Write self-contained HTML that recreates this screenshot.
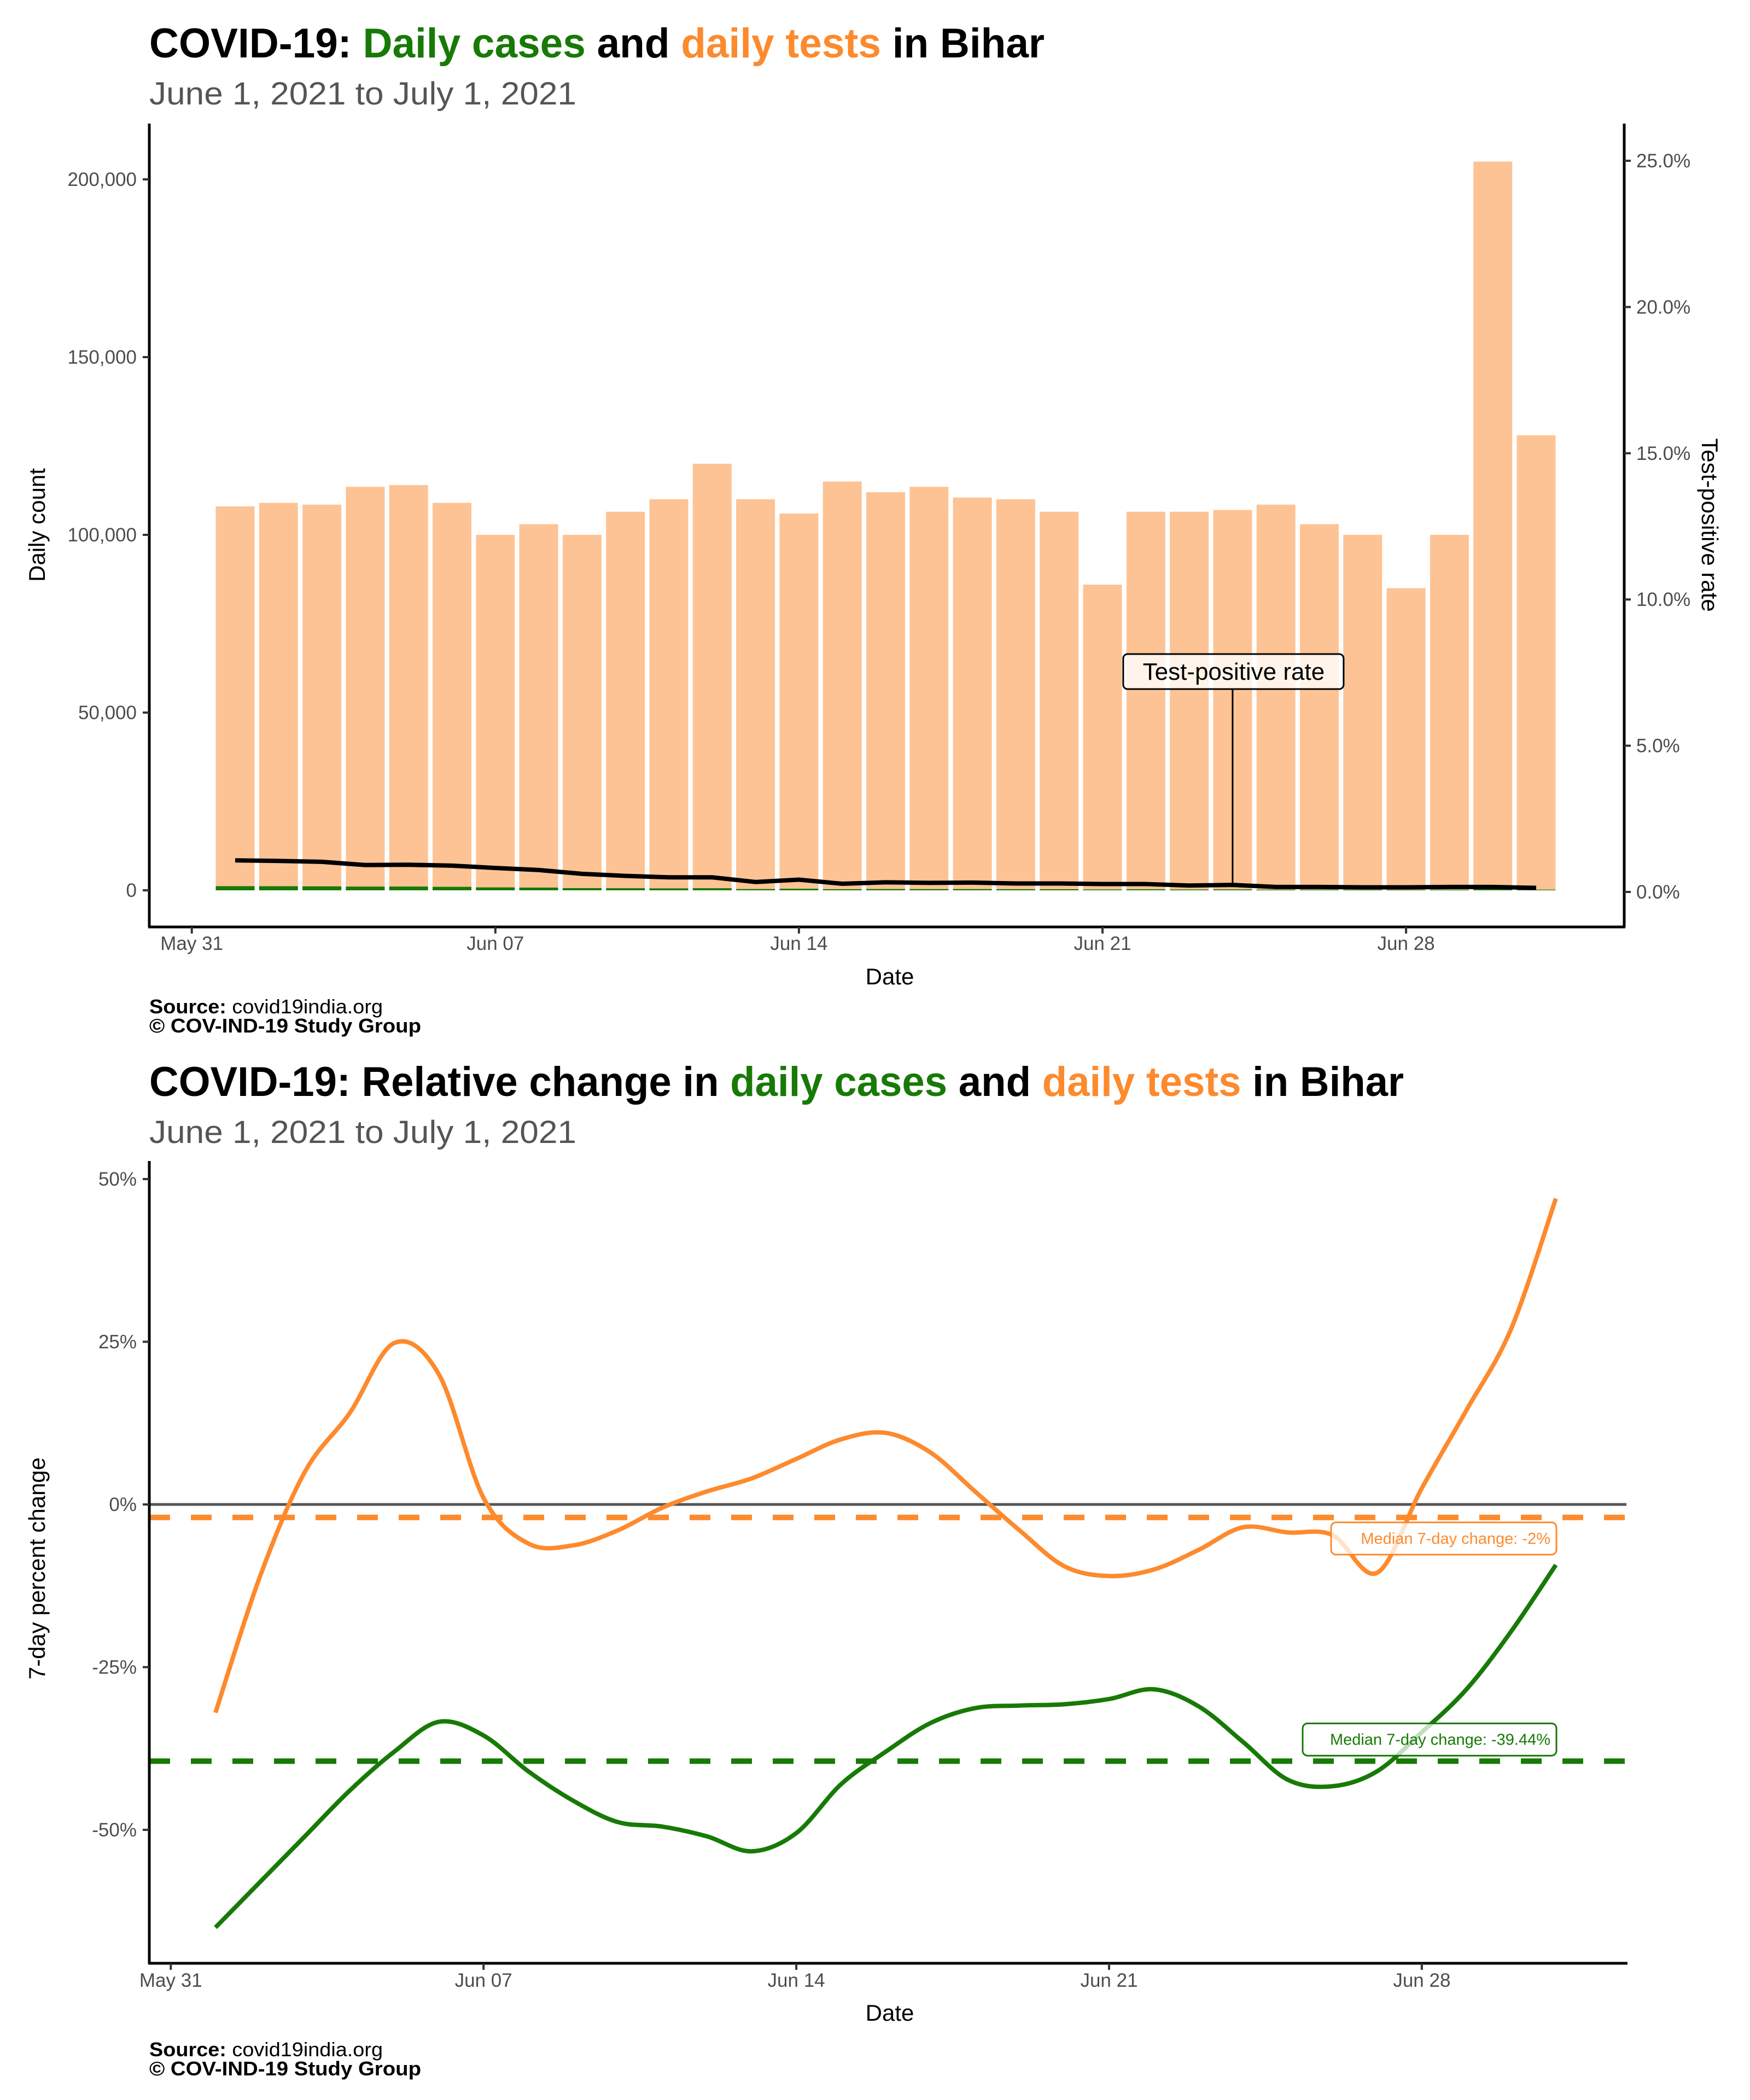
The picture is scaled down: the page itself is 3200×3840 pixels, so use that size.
<!DOCTYPE html>
<html><head><meta charset="utf-8">
<style>
html,body{margin:0;padding:0;background:#fff;}
svg{display:block;font-family:"Liberation Sans",sans-serif;}
</style></head>
<body>
<svg id="chart" width="3200" height="3840" viewBox="0 0 3200 3840" xmlns="http://www.w3.org/2000/svg">
  <g>
    <text x="273" y="105" font-size="76" font-weight="bold" textLength="1637" lengthAdjust="spacingAndGlyphs">COVID-19: <tspan fill="#177a06">Daily cases</tspan> and <tspan fill="#fd8a2d">daily tests</tspan> in Bihar</text>
    <text x="273" y="191" font-size="58" fill="#555" textLength="781" lengthAdjust="spacingAndGlyphs">June  1, 2021 to July  1, 2021</text>
  </g>
  <g id="topChart"></g>
  <g>
    <text x="273" y="1853" font-size="36" textLength="427" lengthAdjust="spacingAndGlyphs"><tspan font-weight="bold">Source:</tspan> covid19india.org</text>
    <text x="273" y="1888" font-size="36" font-weight="bold" textLength="497" lengthAdjust="spacingAndGlyphs">© COV-IND-19 Study Group</text>
  </g>
  <g>
    <text x="273" y="2004" font-size="76" font-weight="bold" textLength="2294" lengthAdjust="spacingAndGlyphs">COVID-19: Relative change in <tspan fill="#177a06">daily cases</tspan> and <tspan fill="#fd8a2d">daily tests</tspan> in Bihar</text>
    <text x="273" y="2090" font-size="58" fill="#555" textLength="781" lengthAdjust="spacingAndGlyphs">June  1, 2021 to July  1, 2021</text>
  </g>
  <g id="botChart"></g>
  <g>
    <text x="273" y="3760" font-size="36" textLength="427" lengthAdjust="spacingAndGlyphs"><tspan font-weight="bold">Source:</tspan> covid19india.org</text>
    <text x="273" y="3795" font-size="36" font-weight="bold" textLength="497" lengthAdjust="spacingAndGlyphs">© COV-IND-19 Study Group</text>
  </g>
</svg>
<script>
// ---- data ----
const dayLabels = ["Jun 01","Jun 02","Jun 03","Jun 04","Jun 05","Jun 06","Jun 07","Jun 08","Jun 09","Jun 10","Jun 11","Jun 12","Jun 13","Jun 14","Jun 15","Jun 16","Jun 17","Jun 18","Jun 19","Jun 20","Jun 21","Jun 22","Jun 23","Jun 24","Jun 25","Jun 26","Jun 27","Jun 28","Jun 29","Jun 30","Jul 01"];
const dailyTests = [108000,109000,108500,113500,114000,109000,100000,103000,100000,106500,110000,120000,110000,106000,115000,112000,113500,110500,110000,106500,86000,106500,106500,107000,108500,103000,100000,85000,100000,205000,128000];
const dailyCases = [1170,1150,1120,1050,1060,980,820,770,620,590,550,600,370,450,320,370,350,350,320,310,230,290,230,260,180,180,160,140,170,350,180];
const tprPercent = [1.08,1.06,1.03,0.92,0.93,0.90,0.82,0.75,0.62,0.55,0.50,0.50,0.34,0.42,0.28,0.33,0.31,0.32,0.29,0.29,0.27,0.27,0.22,0.24,0.17,0.17,0.16,0.16,0.17,0.17,0.14];
const leftTicks = [0,50000,100000,150000,200000];
const leftTickLabels = ["0","50,000","100,000","150,000","200,000"];
const rightTicks = [0,5,10,15,20,25];
const rightTickLabels = ["0.0%","5.0%","10.0%","15.0%","20.0%","25.0%"];
const dateTicks = [-1,6,13,20,27];
const dateTickLabels = ["May 31","Jun 07","Jun 14","Jun 21","Jun 28"];
const testsChange = [-32,-11,5,14,24.8,20,1,-6,-6.3,-4,-0.5,2,4,7,10,11,8,2,-4,-9.5,-11,-10,-7,-3.5,-4.3,-4.7,-10.5,2.5,14.5,27,47];
const casesChange = [-65,-58,-51,-44,-38,-33.4,-35.5,-41,-45.5,-48.8,-49.5,-51,-53.3,-50.5,-43,-38,-33.6,-31.3,-30.9,-30.7,-29.9,-28.4,-31,-36.5,-42.3,-43.3,-41,-35,-28.4,-19.5,-9.3];
const medianTests = -2;
const medianCases = -39.44;
const pctTicks = [-50,-25,0,25,50];
const pctTickLabels = ["-50%","-25%","0%","25%","50%"];

const NS="http://www.w3.org/2000/svg";
function mk(parent,tag,attrs,text){const e=document.createElementNS(NS,tag);for(const k in attrs)e.setAttribute(k,attrs[k]);if(text!==undefined)e.textContent=text;parent.appendChild(e);return e;}

// ---- top chart ----
const topG=document.getElementById('topChart');
const tx=d=>430+d*79.3;
const ty=v=>1628-v*0.0065;
const tr=p=>1631-p*53.48;
const bw=71;
dailyTests.forEach((v,i)=>{
  const r=mk(topG,'rect',{x:tx(i)-bw/2,y:ty(v),width:bw,height:ty(0)-ty(v),fill:'#fec394'});
  
  
});
dailyCases.forEach((v,i)=>{
  const r=mk(topG,'rect',{x:tx(i)-bw/2,y:ty(v),width:bw,height:ty(0)-ty(v),fill:'#177a06'});
  
  
});
const tprLine=mk(topG,'polyline',{points:tprPercent.map((p,i)=>tx(i)+','+tr(p)).join(' '),fill:'none',stroke:'#000','stroke-width':8,'stroke-linejoin':'round'});


const annLine=mk(topG,'line',{x1:tx(23),y1:1260,x2:tx(23),y2:tr(tprPercent[23]),stroke:'#000','stroke-width':3});


const annBox=mk(topG,'rect',{x:tx(23)-200,y:1196,width:403,height:64,rx:8,fill:'#fff','fill-opacity':0.8,stroke:'#000','stroke-width':3});


const annText=mk(topG,'text',{x:tx(23)+2,y:1243,'font-size':44,'text-anchor':'middle'},'Test-positive rate');


const tAxL=mk(topG,'line',{x1:273,y1:226,x2:273,y2:1695,stroke:'#000','stroke-width':5});


const tAxR=mk(topG,'line',{x1:2970,y1:226,x2:2970,y2:1695,stroke:'#000','stroke-width':5});


const tAxB=mk(topG,'line',{x1:271,y1:1695,x2:2972,y2:1695,stroke:'#000','stroke-width':5});


leftTicks.forEach((v,i)=>{
  const t=mk(topG,'line',{x1:261,y1:ty(v),x2:273,y2:ty(v),stroke:'#333','stroke-width':4});
  
  
  const l=mk(topG,'text',{x:250,y:ty(v)+12,'font-size':35,fill:'#4d4d4d','text-anchor':'end'},leftTickLabels[i]);
  
  
});
rightTicks.forEach((v,i)=>{
  const t=mk(topG,'line',{x1:2970,y1:tr(v),x2:2982,y2:tr(v),stroke:'#333','stroke-width':4});
  
  
  const l=mk(topG,'text',{x:2992,y:tr(v)+12,'font-size':35,fill:'#4d4d4d'},rightTickLabels[i]);
  
  
});
dateTicks.forEach((d,i)=>{
  const t=mk(topG,'line',{x1:tx(d),y1:1695,x2:tx(d),y2:1707,stroke:'#333','stroke-width':4});
  
  
  const l=mk(topG,'text',{x:tx(d),y:1737,'font-size':35,fill:'#4d4d4d','text-anchor':'middle'},dateTickLabels[i]);
  
  
});
const tXT=mk(topG,'text',{x:1627,y:1800,'font-size':42,'text-anchor':'middle'},'Date');


const tYT=mk(topG,'text',{x:0,y:0,'font-size':42,'text-anchor':'middle',transform:'translate(82,960) rotate(-90)'},'Daily count');


const tRT=mk(topG,'text',{x:0,y:0,'font-size':42,'text-anchor':'middle',transform:'translate(3112,960) rotate(90)'},'Test-positive rate');



// ---- bottom chart ----
const botG=document.getElementById('botChart');
const bx=d=>394+d*81.7;
const by=p=>2751-p*11.9;
function smooth(vals){
  const pts=vals.map((v,i)=>[bx(i),by(v)]);
  let d='M'+pts[0][0]+','+pts[0][1];
  for(let i=0;i<pts.length-1;i++){
    const p0=pts[Math.max(0,i-1)],p1=pts[i],p2=pts[i+1],p3=pts[Math.min(pts.length-1,i+2)];
    const c1=[p1[0]+(p2[0]-p0[0])/6,p1[1]+(p2[1]-p0[1])/6];
    const c2=[p2[0]-(p3[0]-p1[0])/6,p2[1]-(p3[1]-p1[1])/6];
    d+=' C'+c1[0]+','+c1[1]+' '+c2[0]+','+c2[1]+' '+p2[0]+','+p2[1];
  }
  return d;
}
const zero=mk(botG,'line',{x1:273,y1:by(0),x2:2974,y2:by(0),stroke:'#555','stroke-width':5});


const mT=mk(botG,'line',{x1:273,y1:by(medianTests),x2:2974,y2:by(medianTests),stroke:'#fd8a2d','stroke-width':10,'stroke-dasharray':'38 38'});


const mC=mk(botG,'line',{x1:273,y1:by(medianCases),x2:2974,y2:by(medianCases),stroke:'#177a06','stroke-width':10,'stroke-dasharray':'38 38'});


const lT=mk(botG,'path',{d:smooth(testsChange),fill:'none',stroke:'#fd8a2d','stroke-width':8,'stroke-linejoin':'round'});


const lC=mk(botG,'path',{d:smooth(casesChange),fill:'none',stroke:'#177a06','stroke-width':8,'stroke-linejoin':'round'});


const bT=mk(botG,'rect',{x:2434,y:by(medianTests)+9,width:412,height:59,rx:9,fill:'#fff','fill-opacity':0.75,stroke:'#fd8a2d','stroke-width':3});


const tT=mk(botG,'text',{x:2835,y:by(medianTests)+48,'font-size':29,fill:'#fd8a2d','text-anchor':'end'},'Median 7-day change: '+medianTests+'%');


const bC=mk(botG,'rect',{x:2382,y:by(medianCases)-69,width:464,height:59,rx:9,fill:'#fff','fill-opacity':0.75,stroke:'#177a06','stroke-width':3});


const tC=mk(botG,'text',{x:2835,y:by(medianCases)-30,'font-size':29,fill:'#177a06','text-anchor':'end'},'Median 7-day change: '+medianCases+'%');


const bAxL=mk(botG,'line',{x1:273,y1:2123,x2:273,y2:3590,stroke:'#000','stroke-width':5});


const bAxB=mk(botG,'line',{x1:271,y1:3590,x2:2976,y2:3590,stroke:'#000','stroke-width':5});


pctTicks.forEach((v,i)=>{
  const t=mk(botG,'line',{x1:261,y1:by(v),x2:273,y2:by(v),stroke:'#333','stroke-width':4});
  
  
  const l=mk(botG,'text',{x:250,y:by(v)+12,'font-size':35,fill:'#4d4d4d','text-anchor':'end'},pctTickLabels[i]);
  
  
});
dateTicks.forEach((d,i)=>{
  const t=mk(botG,'line',{x1:bx(d),y1:3590,x2:bx(d),y2:3602,stroke:'#333','stroke-width':4});
  
  
  const l=mk(botG,'text',{x:bx(d),y:3633,'font-size':35,fill:'#4d4d4d','text-anchor':'middle'},dateTickLabels[i]);
  
  
});
const bXT=mk(botG,'text',{x:1627,y:3695,'font-size':42,'text-anchor':'middle'},'Date');


const bYT=mk(botG,'text',{x:0,y:0,'font-size':42,'text-anchor':'middle',transform:'translate(82,2868) rotate(-90)'},'7-day percent change');


</script>
</body></html>
